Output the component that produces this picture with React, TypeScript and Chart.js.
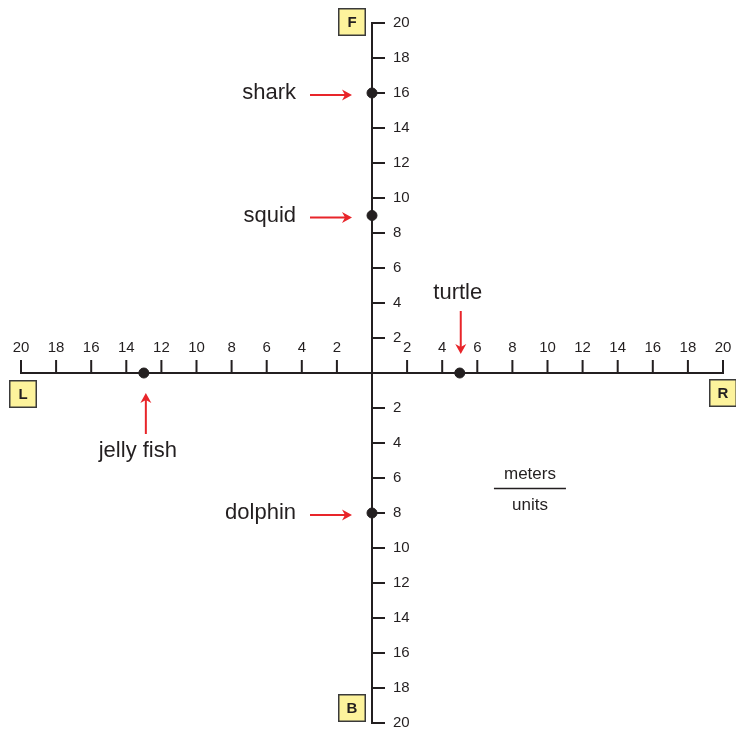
import { useEffect, useRef } from "react";
import { Chart, registerables } from "chart.js";

Chart.register(...registerables);

const xTicks = [-20, -18, -16, -14, -12, -10, -8, -6, -4, -2, 2, 4, 6, 8, 10, 12, 14, 16, 18, 20];
const yTicks = [-20, -18, -16, -14, -12, -10, -8, -6, -4, -2, 2, 4, 6, 8, 10, 12, 14, 16, 18, 20];
const creatures = ["shark", "squid", "turtle", "jelly fish", "dolphin"];
const xValues = [0, 0, 5, -13, 0];
const yValues = [16, 9, 0, 0, -8];
const labelSides = ["left", "left", "top", "bottom", "left"];
const directionLetters = ["F", "B", "L", "R"];
const unitTop = "meters";
const unitBottom = "units";

const FONT = "'Liberation Sans', Arial, Helvetica, sans-serif";
const AXIS_COLOR = "#231f20";
const RED = "#e8252a";

function drawArrow(ctx: CanvasRenderingContext2D, x1: number, y1: number, x2: number, y2: number) {
  const ang = Math.atan2(y2 - y1, x2 - x1);
  const head = 10;
  const half = 5.5;
  const notch = 3;
  const c = Math.cos(ang);
  const s = Math.sin(ang);
  ctx.save();
  ctx.strokeStyle = RED;
  ctx.fillStyle = RED;
  ctx.lineWidth = 2;
  ctx.beginPath();
  ctx.moveTo(x1, y1);
  ctx.lineTo(x2 - c * (head - notch), y2 - s * (head - notch));
  ctx.stroke();
  ctx.beginPath();
  ctx.moveTo(x2, y2);
  ctx.lineTo(x2 - c * head + s * half, y2 - s * head - c * half);
  ctx.lineTo(x2 - c * (head - notch), y2 - s * (head - notch));
  ctx.lineTo(x2 - c * head - s * half, y2 - s * head + c * half);
  ctx.closePath();
  ctx.fill();
  ctx.restore();
}

function drawBox(ctx: CanvasRenderingContext2D, left: number, top: number, letter: string) {
  const w = 28;
  const h = 28;
  ctx.save();
  ctx.fillStyle = "#fdf39c";
  ctx.strokeStyle = "#3a3a3a";
  ctx.lineWidth = 1.5;
  ctx.fillRect(left, top, w, h);
  ctx.strokeRect(left + 0.75, top + 0.75, w - 1.5, h - 1.5);
  ctx.fillStyle = "#231f20";
  ctx.font = `bold 15px ${FONT}`;
  ctx.textAlign = "center";
  ctx.textBaseline = "middle";
  ctx.fillText(letter, left + w / 2, top + h / 2 + 1);
  ctx.restore();
}

const axesPlugin = {
  id: "crossAxes",
  beforeDatasetsDraw(chart: any) {
    const ctx: CanvasRenderingContext2D = chart.ctx;
    const xs = chart.scales.x;
    const ys = chart.scales.y;
    const ax = xs.getPixelForValue(0);
    const ay = ys.getPixelForValue(0);
    const xl = xs.getPixelForValue(-20);
    const xr = xs.getPixelForValue(20);
    const yt = ys.getPixelForValue(20);
    const yb = ys.getPixelForValue(-20);
    ctx.save();
    ctx.strokeStyle = AXIS_COLOR;
    ctx.lineWidth = 2;
    ctx.lineCap = "butt";
    ctx.beginPath();
    ctx.moveTo(xl - 1, ay);
    ctx.lineTo(xr + 1, ay);
    ctx.moveTo(ax, yt - 1);
    ctx.lineTo(ax, yb + 1);
    xTicks.forEach((v) => {
      const px = xs.getPixelForValue(v);
      ctx.moveTo(px, ay);
      ctx.lineTo(px, ay - 13);
    });
    yTicks.forEach((v) => {
      const py = ys.getPixelForValue(v);
      ctx.moveTo(ax, py);
      ctx.lineTo(ax + 13, py);
    });
    ctx.stroke();

    ctx.fillStyle = AXIS_COLOR;
    ctx.font = `15px ${FONT}`;
    ctx.textBaseline = "middle";
    ctx.textAlign = "center";
    xTicks.forEach((v) => {
      ctx.fillText(String(Math.abs(v)), xs.getPixelForValue(v), ay - 25);
    });
    ctx.textAlign = "left";
    yTicks.forEach((v) => {
      ctx.fillText(String(Math.abs(v)), ax + 21, ys.getPixelForValue(v));
    });
    ctx.restore();
  },
  afterDatasetsDraw(chart: any) {
    const ctx: CanvasRenderingContext2D = chart.ctx;
    const xs = chart.scales.x;
    const ys = chart.scales.y;
    const ax = xs.getPixelForValue(0);
    const ay = ys.getPixelForValue(0);
    const xl = xs.getPixelForValue(-20);
    const xr = xs.getPixelForValue(20);
    const yt = ys.getPixelForValue(20);
    const yb = ys.getPixelForValue(-20);

    ctx.save();
    ctx.font = `22px ${FONT}`;
    ctx.fillStyle = AXIS_COLOR;
    creatures.forEach((name, i) => {
      const px = xs.getPixelForValue(xValues[i]);
      const py = ys.getPixelForValue(yValues[i]);
      const side = labelSides[i];
      if (side === "left") {
        drawArrow(ctx, px - 62, py + 2, px - 20, py + 2);
        ctx.textAlign = "right";
        ctx.textBaseline = "middle";
        ctx.fillText(name, px - 76, py);
      } else if (side === "top") {
        drawArrow(ctx, px + 1, py - 62, px + 1, py - 19);
        ctx.textAlign = "center";
        ctx.textBaseline = "middle";
        ctx.fillText(name, px - 2, py - 80);
      } else {
        drawArrow(ctx, px + 2, py + 61, px + 2, py + 20);
        ctx.textAlign = "center";
        ctx.textBaseline = "middle";
        ctx.fillText(name, px - 6, py + 78);
      }
    });

    // unit fraction
    const ux = xs.getPixelForValue(9);
    const uy = ys.getPixelForValue(-6.6);
    ctx.font = `17px ${FONT}`;
    ctx.textAlign = "center";
    ctx.textBaseline = "middle";
    ctx.fillText(unitTop, ux, uy - 14);
    ctx.fillText(unitBottom, ux, uy + 17);
    ctx.strokeStyle = AXIS_COLOR;
    ctx.lineWidth = 1.5;
    ctx.beginPath();
    ctx.moveTo(ux - 36, uy);
    ctx.lineTo(ux + 36, uy);
    ctx.stroke();
    ctx.restore();

    // direction boxes
    drawBox(ctx, ax - 34, yt - 15, directionLetters[0]);
    drawBox(ctx, ax - 34, yb - 29, directionLetters[1]);
    drawBox(ctx, xl - 12, ay + 7, directionLetters[2]);
    drawBox(ctx, xr - 14, ay + 6, directionLetters[3]);
  },
};

export default function App() {
  const ref = useRef<HTMLCanvasElement | null>(null);
  useEffect(() => {
    if (!ref.current) return;
    const points = xValues.map((x, i) => ({ x, y: yValues[i] }));
    const chart = new Chart(ref.current, {
      type: "scatter",
      data: {
        labels: creatures,
        datasets: [
          {
            label: "creatures",
            data: points,
            backgroundColor: "#231f20",
            borderColor: "#231f20",
            pointRadius: 5,
            pointHoverRadius: 5,
            clip: false as any,
          },
        ],
      },
      options: {
        responsive: false,
        animation: false,
        devicePixelRatio: 1,
        layout: { padding: { left: 21, right: 13, top: 23, bottom: 9 } },
        scales: {
          x: { type: "linear", min: -20, max: 20, display: false },
          y: { type: "linear", min: -20, max: 20, display: false },
        },
        plugins: {
          legend: { display: false },
          tooltip: { enabled: false },
        },
      },
      plugins: [axesPlugin],
    });
    return () => chart.destroy();
  }, []);
  return (
    <div style={{ position: "fixed", left: 0, top: 0, width: 736, height: 732, background: "#fff" }}>
      <canvas ref={ref} width={736} height={732} style={{ width: 736, height: 732 }} />
    </div>
  );
}
